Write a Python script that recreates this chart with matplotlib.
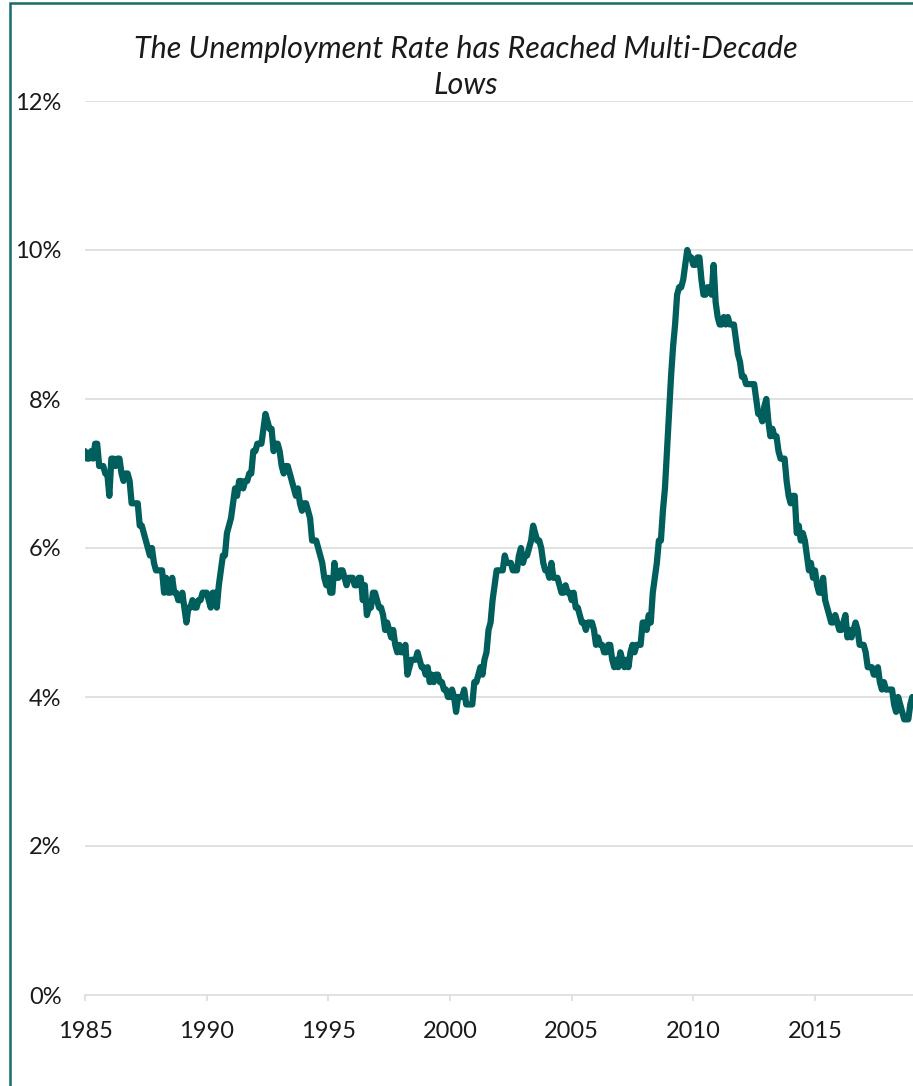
import matplotlib
matplotlib.use("Agg")
import matplotlib.pyplot as plt
from matplotlib.patches import Rectangle
from matplotlib.ticker import FuncFormatter
import numpy as np

# Civilian unemployment rate, monthly, seasonally adjusted (%)
rates_1985_1989 = [
    7.3, 7.2, 7.2, 7.3, 7.2, 7.4, 7.4, 7.1, 7.1, 7.1, 7.0, 7.0,
    6.7, 7.2, 7.2, 7.1, 7.2, 7.2, 7.0, 6.9, 7.0, 7.0, 6.9, 6.6,
    6.6, 6.6, 6.6, 6.3, 6.3, 6.2, 6.1, 6.0, 5.9, 6.0, 5.8, 5.7,
    5.7, 5.7, 5.7, 5.4, 5.6, 5.4, 5.4, 5.6, 5.4, 5.4, 5.3, 5.3,
    5.4, 5.2, 5.0, 5.2, 5.2, 5.3, 5.2, 5.2, 5.3, 5.3, 5.4, 5.4,
]
rates_1990_1994 = [
    5.4, 5.3, 5.2, 5.4, 5.4, 5.2, 5.5, 5.7, 5.9, 5.9, 6.2, 6.3,
    6.4, 6.6, 6.8, 6.7, 6.9, 6.9, 6.8, 6.9, 6.9, 7.0, 7.0, 7.3,
    7.3, 7.4, 7.4, 7.4, 7.6, 7.8, 7.7, 7.6, 7.6, 7.3, 7.4, 7.4,
    7.3, 7.1, 7.0, 7.1, 7.1, 7.0, 6.9, 6.8, 6.7, 6.8, 6.6, 6.5,
    6.6, 6.6, 6.5, 6.4, 6.1, 6.1, 6.1, 6.0, 5.9, 5.8, 5.6, 5.5,
]
rates_1995_1999 = [
    5.6, 5.4, 5.4, 5.8, 5.6, 5.6, 5.7, 5.7, 5.6, 5.5, 5.6, 5.6,
    5.6, 5.5, 5.5, 5.6, 5.6, 5.3, 5.5, 5.1, 5.2, 5.2, 5.4, 5.4,
    5.3, 5.2, 5.2, 5.1, 4.9, 5.0, 4.9, 4.8, 4.9, 4.7, 4.6, 4.7,
    4.6, 4.6, 4.7, 4.3, 4.4, 4.5, 4.5, 4.5, 4.6, 4.5, 4.4, 4.4,
    4.3, 4.4, 4.2, 4.3, 4.2, 4.3, 4.3, 4.2, 4.2, 4.1, 4.1, 4.0,
]
rates_2000_2004 = [
    4.0, 4.1, 4.0, 3.8, 4.0, 4.0, 4.0, 4.1, 3.9, 3.9, 3.9, 3.9,
    4.2, 4.2, 4.3, 4.4, 4.3, 4.5, 4.6, 4.9, 5.0, 5.3, 5.5, 5.7,
    5.7, 5.7, 5.7, 5.9, 5.8, 5.8, 5.8, 5.7, 5.7, 5.7, 5.9, 6.0,
    5.8, 5.9, 5.9, 6.0, 6.1, 6.3, 6.2, 6.1, 6.1, 6.0, 5.8, 5.7,
    5.7, 5.6, 5.8, 5.6, 5.6, 5.6, 5.5, 5.4, 5.4, 5.5, 5.4, 5.4,
]
rates_2005_2009 = [
    5.3, 5.4, 5.2, 5.2, 5.1, 5.0, 5.0, 4.9, 5.0, 5.0, 5.0, 4.9,
    4.7, 4.8, 4.7, 4.7, 4.6, 4.6, 4.7, 4.7, 4.5, 4.4, 4.5, 4.4,
    4.6, 4.5, 4.4, 4.5, 4.4, 4.6, 4.7, 4.6, 4.7, 4.7, 4.7, 5.0,
    5.0, 4.9, 5.1, 5.0, 5.4, 5.6, 5.8, 6.1, 6.1, 6.5, 6.8, 7.3,
    7.8, 8.3, 8.7, 9.0, 9.4, 9.5, 9.5, 9.6, 9.8, 10.0, 9.9, 9.9,
]
rates_2010_2014 = [
    9.8, 9.8, 9.9, 9.9, 9.6, 9.4, 9.4, 9.5, 9.5, 9.4, 9.8, 9.3,
    9.1, 9.0, 9.0, 9.1, 9.0, 9.1, 9.0, 9.0, 9.0, 8.8, 8.6, 8.5,
    8.3, 8.3, 8.2, 8.2, 8.2, 8.2, 8.2, 8.0, 7.8, 7.8, 7.7, 7.9,
    8.0, 7.7, 7.5, 7.6, 7.5, 7.5, 7.3, 7.2, 7.2, 7.2, 6.9, 6.7,
    6.6, 6.7, 6.7, 6.2, 6.3, 6.1, 6.2, 6.1, 5.9, 5.7, 5.8, 5.6,
]
rates_2015_2019 = [
    5.7, 5.5, 5.4, 5.4, 5.6, 5.3, 5.2, 5.1, 5.0, 5.0, 5.1, 5.0,
    4.9, 4.9, 5.0, 5.1, 4.8, 4.9, 4.8, 4.9, 5.0, 4.9, 4.7, 4.7,
    4.7, 4.6, 4.4, 4.4, 4.4, 4.3, 4.3, 4.4, 4.2, 4.1, 4.2, 4.1,
    4.1, 4.1, 4.1, 3.9, 3.8, 4.0, 3.9, 3.8, 3.7, 3.7, 3.7, 3.9,
    4.0,
]
first_year = 1985
year_ticks = [1985, 1990, 1995, 2000, 2005, 2010, 2015]
pct_ticks = [0, 2, 4, 6, 8, 10, 12]
title_text = "The Unemployment Rate has Reached Multi-Decade\nLows"

rates = np.array(rates_1985_1989 + rates_1990_1994 + rates_1995_1999
                 + rates_2000_2004 + rates_2005_2009 + rates_2010_2014
                 + rates_2015_2019)
dates = first_year + np.arange(len(rates)) / 12.0

W, H = 913, 1086
fig = plt.figure(figsize=(W / 100, H / 100), dpi=100)
fig.patch.set_facecolor("white")

# axes placement in pixels
left_px, right_px = 85, 913
bottom_px, top_px = 995, 101
ax = fig.add_axes([left_px / W, (H - bottom_px) / H,
                   (right_px - left_px) / W, (bottom_px - top_px) / H])

px_per_year = (815 - 85) / 30.0
ax.set_xlim(first_year, first_year + (right_px - left_px) / px_per_year)
ax.set_ylim(0, 12)

teal = "#005E5D"
grid_col = "#D9D9D9"

for v in pct_ticks[1:]:
    ax.axhline(v, color=grid_col, lw=1.1, zorder=1)

ax.plot(dates, rates, color=teal, lw=4.5, solid_joinstyle="round",
        solid_capstyle="round", zorder=3, clip_on=True)

for s in ["top", "right", "left"]:
    ax.spines[s].set_visible(False)
ax.spines["bottom"].set_color(grid_col)
ax.spines["bottom"].set_linewidth(1.1)

ax.set_xticks(year_ticks)
ax.set_xticklabels([str(y) for y in year_ticks])
ax.set_yticks(pct_ticks)
ax.yaxis.set_major_formatter(FuncFormatter(lambda v, p: f"{v:.0f}%"))

tick_family = ["Lato", "DejaVu Sans"]
for lab in ax.get_xticklabels() + ax.get_yticklabels():
    lab.set_fontfamily(tick_family)
    lab.set_fontsize(17)
    lab.set_color("#1a1a1a")

ax.tick_params(axis="x", length=4, width=1.1, color=grid_col, pad=15)
ax.tick_params(axis="y", length=0, pad=17)

fig.text(466 / W, 1 - 67 / H, title_text, ha="center", va="center",
         fontsize=22, style="italic", family=["Lato", "DejaVu Sans"],
         color="#1a1a1a", linespacing=1.38)

# outer chart frame (left and top edges visible)
frame = Rectangle((9.5 / W, -0.1), 2.0, 1.1 - 3.5 / H,
                  transform=fig.transFigure, fill=False,
                  edgecolor="#176B69", lw=1.8, zorder=10)
fig.patches.append(frame)

fig.savefig("out.png", dpi=100, facecolor="white")
